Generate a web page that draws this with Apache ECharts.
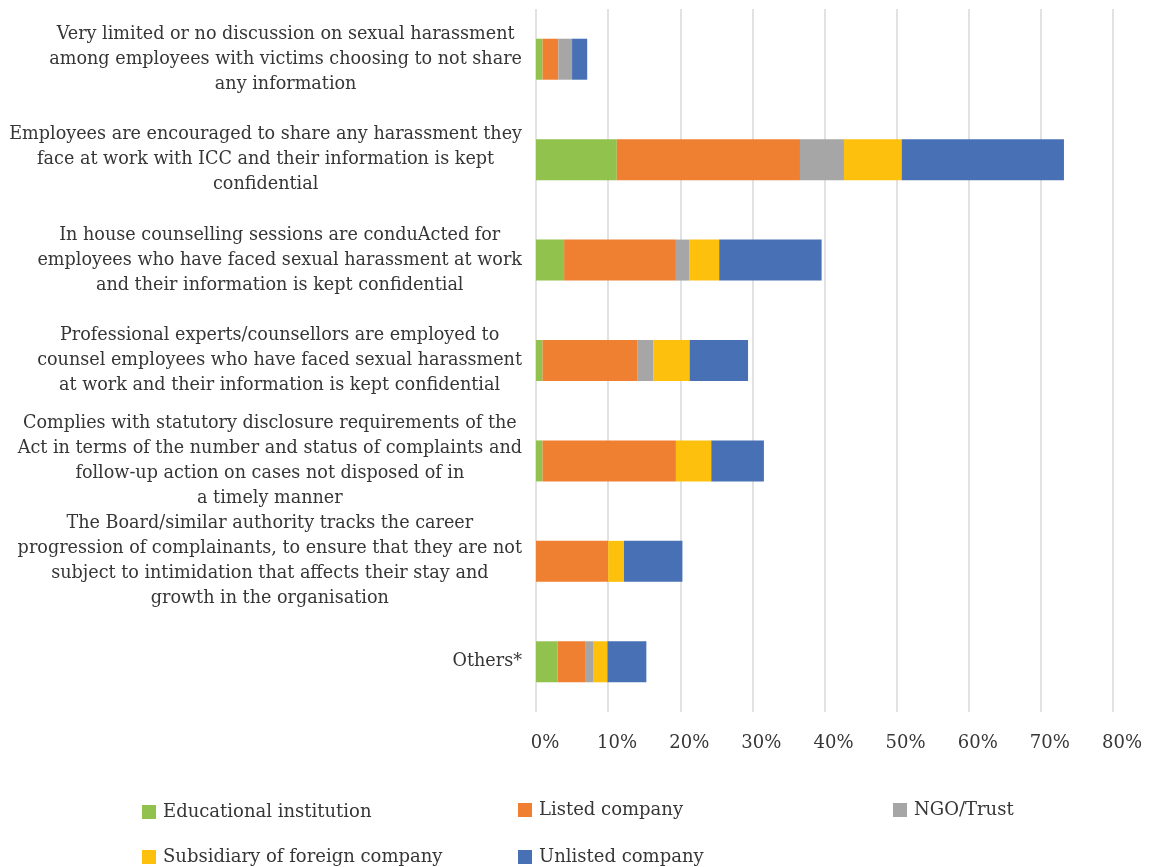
<!DOCTYPE html>
<html>
<head>
<meta charset="utf-8">
<script src="https://cdn.jsdelivr.net/npm/echarts@6/dist/echarts.min.js"></script>
<style>html,body{margin:0;padding:0;background:#fff;}#c{width:1154px;height:867px;}</style>
</head>
<body>
<div id="c"></div>
<script>
var categories = [
  "Very limited or no discussion on sexual harassment\namong employees with victims choosing to not share\nany information",
  "Employees are encouraged to share any harassment they\nface at work with ICC and their information is kept\nconfidential",
  "In house counselling sessions are conduActed for\nemployees who have faced sexual harassment at work\nand their information is kept confidential",
  "Professional experts/counsellors are employed to\ncounsel employees who have faced sexual harassment\nat work and their information is kept confidential",
  "Complies with statutory disclosure requirements of the\nAct in terms of the number and status of complaints and\nfollow-up action on cases not disposed of in\na timely manner",
  "The Board/similar authority tracks the career\nprogression of complainants, to ensure that they are not\nsubject to intimidation that affects their stay and\ngrowth in the organisation",
  "Others*"
];
var seriesNames = ["Educational institution", "Listed company", "NGO/Trust", "Subsidiary of foreign company", "Unlisted company"];
var educational = [0.9, 11.2, 3.9, 0.9, 0.9, 0, 3.0];
var listed      = [2.2, 25.4, 15.5, 13.2, 18.5, 10.0, 3.9];
var ngo         = [1.9, 6.1, 1.9, 2.2, 0, 0, 1.1];
var subsidiary  = [0, 8.0, 4.1, 5.0, 4.9, 2.2, 1.9];
var unlisted    = [2.1, 22.5, 14.2, 8.1, 7.3, 8.1, 5.4];
var xTicks = { min: 0, max: 80, interval: 10 };

var colors = ["#92C24E", "#EF7F31", "#A6A6A6", "#FDC00C", "#4871B5"];
var values = [educational, listed, ngo, subsidiary, unlisted];
var FONT = "DejaVu Serif";
var TXT = "#363636";

var chart = echarts.init(document.getElementById('c'));
var legendPos = [
  {left: 142, top: 802},
  {left: 518, top: 800},
  {left: 893, top: 800},
  {left: 142, top: 847},
  {left: 518, top: 847}
];
var legends = seriesNames.map(function (n, i) {
  return {
    data: [n], left: legendPos[i].left, top: legendPos[i].top,
    itemWidth: 14, itemHeight: 14, icon: 'rect', padding: 0,
    selectedMode: false,
    textStyle: {fontFamily: FONT, fontSize: 18, color: TXT, lineHeight: 20, padding: [0,0,0,2]}
  };
});
var series = seriesNames.map(function (n, i) {
  return {
    name: n, type: 'bar', stack: 'total', barWidth: 41,
    itemStyle: {color: colors[i]},
    data: values[i]
  };
});
chart.setOption({
  animation: false,
  color: colors,
  legend: legends,
  grid: {left: 536, right: 41, top: 9, bottom: 155, containLabel: false, outerBoundsMode: 'none'},
  xAxis: {
    type: 'value', min: xTicks.min, max: xTicks.max, interval: xTicks.interval,
    axisLine: {show: false}, axisTick: {show: false},
    splitLine: {lineStyle: {color: '#d9d9d9', width: 1.5}},
    axisLabel: {formatter: '{value}%', fontFamily: FONT, fontSize: 18, color: TXT, margin: 22, padding: [0,0,0,18]}
  },
  yAxis: {
    type: 'category', data: categories, inverse: true,
    axisLine: {show: false}, axisTick: {show: false},
    axisLabel: {
      margin: 14, align: 'right', fontFamily: FONT, fontSize: 17.6, color: TXT, lineHeight: 25,
      formatter: function (v) {
        return v.split('\n').map(function (l) { return '{c|' + l + '}'; }).join('\n');
      },
      rich: {c: {align: 'center', fontFamily: FONT, fontSize: 17.6, color: TXT, lineHeight: 25}}
    }
  },
  series: series
});
</script>
</body>
</html>
